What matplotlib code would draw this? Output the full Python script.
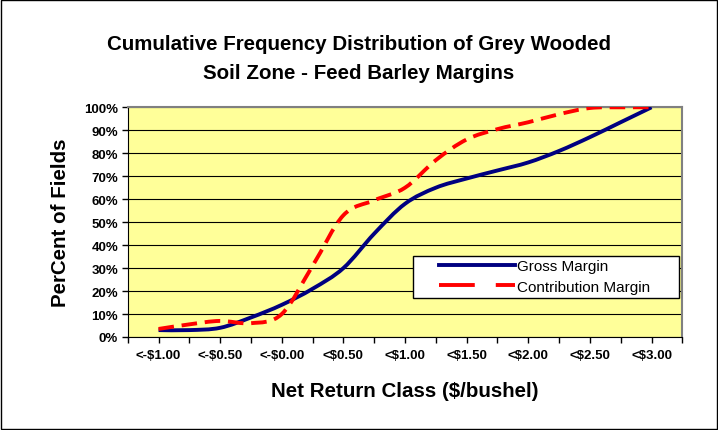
import numpy as np
import matplotlib.pyplot as plt
from matplotlib.path import Path
from matplotlib.patches import PathPatch, Rectangle
from matplotlib.lines import Line2D

plt.rcParams['font.family'] = ['Liberation Sans', 'DejaVu Sans']

# net return classes ($/bushel), every 0.25
classes = ['<-$1.00', '<-$0.75', '<-$0.50', '<-$0.25', '<-$0.00', '<$0.25',
           '<$0.50', '<$0.75', '<$1.00', '<$1.25', '<$1.50', '<$1.75',
           '<$2.00', '<$2.25', '<$2.50', '<$2.75', '<$3.00']
gross = [3, 3, 4, 8.5, 14, 21, 30, 45, 58, 65, 69, 72.5, 76, 81, 87, 93.5, 100]
contribution = [3.5, 5.5, 7, 6, 10, 31, 53, 59.5, 65, 77, 86, 90.5, 93.5, 97, 99.7, 100, 100]


def smooth_path(xs, ys, t=1 / 6):
    # bezier through the points, like excel "smoothed line"
    xs = np.asarray(xs, float)
    ys = np.asarray(ys, float)
    n = len(xs)
    verts = [(xs[0], ys[0])]
    codes = [Path.MOVETO]
    for i in range(n - 1):
        p0 = np.array([xs[max(i - 1, 0)], ys[max(i - 1, 0)]])
        p1 = np.array([xs[i], ys[i]])
        p2 = np.array([xs[i + 1], ys[i + 1]])
        p3 = np.array([xs[min(i + 2, n - 1)], ys[min(i + 2, n - 1)]])
        c1 = p1 + (p2 - p0) * t
        c2 = p2 - (p3 - p1) * t
        verts += [tuple(c1), tuple(c2), tuple(p2)]
        codes += [Path.CURVE4] * 3
    return Path(verts, codes)


fig = plt.figure(figsize=(7.18, 4.31), dpi=100)
fig.patches.append(Rectangle((0.001, 0.002), 0.997, 0.996, transform=fig.transFigure,
                             fill=False, edgecolor='black', linewidth=1))
ax = fig.add_axes([0.1779, 0.2158, 0.7724, 0.5329])
ax.set_facecolor('#FFFF99')

x = np.arange(1, len(classes) + 1)
ax.add_patch(PathPatch(smooth_path(x, gross), fill=False, edgecolor='#000080',
                       linewidth=2.8, capstyle='butt', zorder=3))
ax.add_patch(PathPatch(smooth_path(x, contribution), fill=False, edgecolor='#FF0000',
                       linewidth=2.8, linestyle=(0, (4, 2)), capstyle='butt', zorder=4))

ax.set_xlim(0, len(classes) + 1)
ax.set_ylim(0, 100)
ax.set_xticks(np.arange(0, len(classes) + 2))
ax.set_xticklabels([''] + [c if i % 2 == 0 else '' for i, c in enumerate(classes)] + [''])
ax.set_yticks(np.arange(0, 101, 10))
ax.set_yticklabels([f'{v}%' for v in range(0, 101, 10)])
ax.tick_params(axis='both', direction='out', length=4, width=1, colors='black',
               labelsize=9.5, pad=3)
ax.tick_params(axis='x', pad=5)
for lab in ax.get_xticklabels() + ax.get_yticklabels():
    lab.set_fontweight('bold')
ax.yaxis.grid(True, color='black', linewidth=0.8)
ax.set_axisbelow(True)
ax.spines['top'].set_color('#808080')
ax.spines['right'].set_color('#808080')
ax.spines['top'].set_linewidth(1.5)
ax.spines['right'].set_linewidth(1.5)

ax.set_xlabel('Net Return Class ($/bushel)', fontsize=14.8, fontweight='bold', labelpad=14)
ax.set_ylabel('PerCent of Fields', fontsize=14.8, fontweight='bold', labelpad=10)
fig.text(0.5, 0.8956, 'Cumulative Frequency Distribution of Grey Wooded',
         ha='center', va='center', fontsize=14.8, fontweight='bold')
fig.text(0.5, 0.8306, 'Soil Zone - Feed Barley Margins',
         ha='center', va='center', fontsize=14.8, fontweight='bold')

# excel-style legend box: wide padding left/right, drawn separately
ax.add_patch(Rectangle((0.514, 0.170), 0.4806, 0.184, transform=ax.transAxes,
                       facecolor='white', edgecolor='black', linewidth=1, zorder=6))
handles = [Line2D([], [], color='#000080', linewidth=2.8),
           Line2D([], [], color='#FF0000', linewidth=2.8, linestyle=(0, (9.2, 5.4)))]
leg = ax.legend(handles, ['Gross Margin', 'Contribution Margin'], loc='center left',
                bbox_to_anchor=(0.561, 0.263), fontsize=11, handlelength=5.0,
                handletextpad=0.1, borderpad=0, labelspacing=0.42, frameon=False,
                borderaxespad=0)
leg.set_zorder(7)

fig.savefig('out.png', dpi=100)
